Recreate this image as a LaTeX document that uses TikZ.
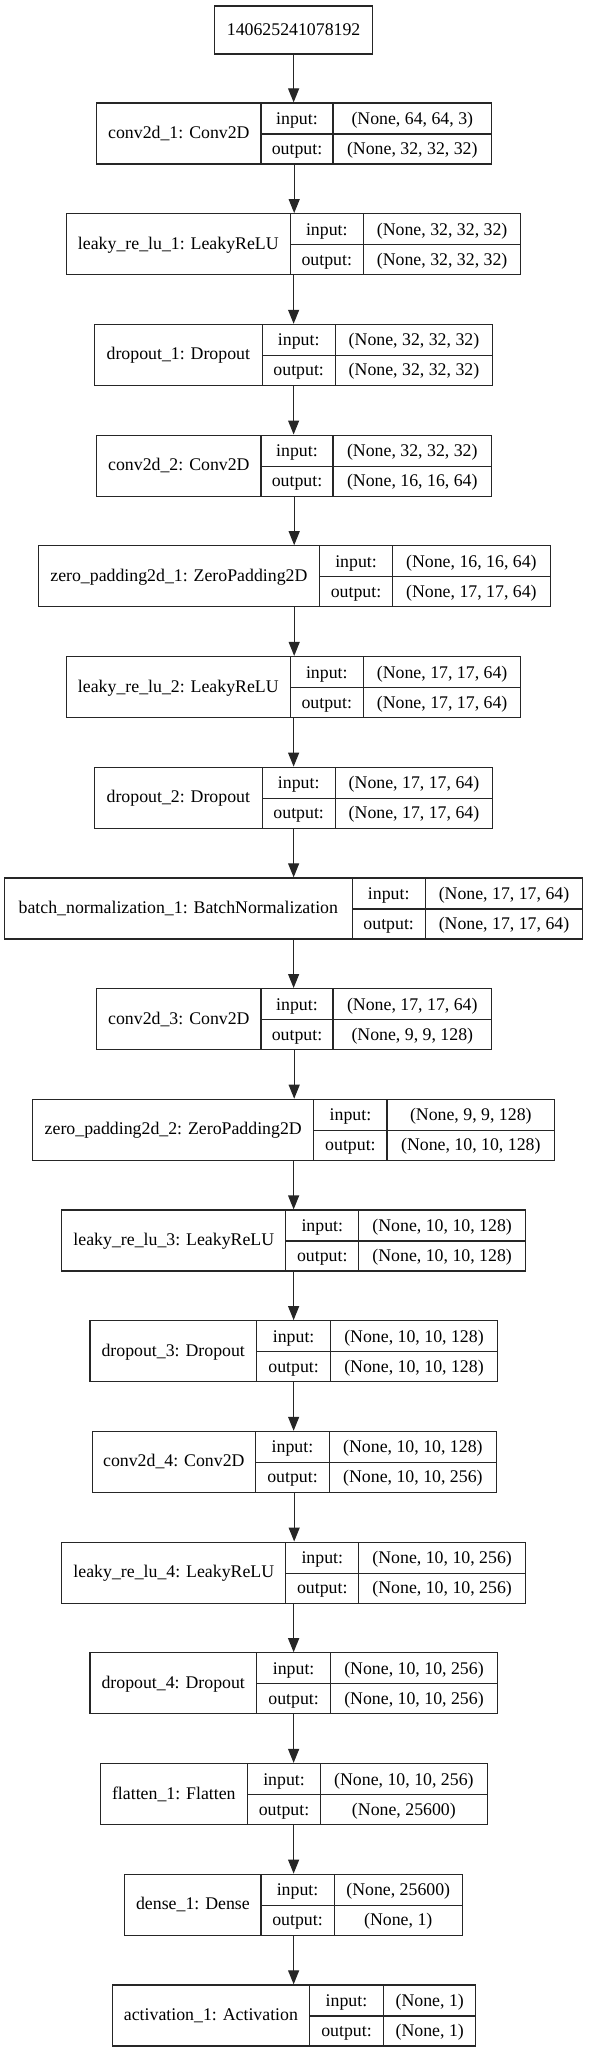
\documentclass[tikz,border=0pt]{standalone}
\usepackage{fontspec}
\setmainfont{Liberation Serif}
\usetikzlibrary{arrows.meta}

\begin{document}
\begin{tikzpicture}[x=1.125pt, y=-1pt, line width=1.2pt, font=\fontsize{17.8}{20}\selectfont,
	box/.style={draw=black!85, minimum height=61pt, inner sep=0pt},
	txt/.style={inner sep=0pt, anchor=base},
	flow/.style={draw=black!85, -{Triangle[length=14pt,width=11pt]}}]
	\useasboundingbox (0,0) rectangle (522.67,2052);
	% one keras layer: name, row, left, split 1, split 2, right, label, input, output
	\def\layer#1#2#3#4#5#6#7#8#9{
		\pgfmathsetmacro\yt{103+110.7*(#2-1)}
		\pgfmathsetmacro\yb{\yt+61}
		\pgfmathsetmacro\ym{\yt+31}
		\node[box, minimum width=1.125*#6pt-1.125*#3pt] (#1) at ({(#3+#6)/2},{\yt+30.5}) {};
		\draw[black!85] (#4,\yt) -- (#4,\yb);
		\draw[black!85] (#5,\yt) -- (#5,\yb);
		\draw[black!85] (#4,\ym) -- (#6,\ym);
		\node[txt] (#1-l) at ({(#3+#4)/2},{\yt+35.5}) {#7};
		\node[txt] (#1-i) at ({(#4+#5)/2},{\yt+21.5}) {input:};
		\node[txt] (#1-o) at ({(#4+#5)/2},{\yt+51.5}) {output:};
		\node[txt] (#1-in) at ({(#5+#6)/2},{\yt+21.5}) {#8};
		\node[txt] (#1-out) at ({(#5+#6)/2},{\yt+51.5}) {#9};
	}
	\node[draw=black!85, minimum width=157.5pt, minimum height=48pt, inner sep=0pt] (top) at (261,30) {};
	\node[txt] (top-l) at (261,36) {140625241078192};
	\layer{conv1}{1}{86}{232}{296}{437}{conv2d\_1: Conv2D}{(None, 64, 64, 3)}{(None, 32, 32, 32)}
	\layer{lrelu1}{2}{59}{258}{323}{463}{leaky\_re\_lu\_1: LeakyReLU}{(None, 32, 32, 32)}{(None, 32, 32, 32)}
	\layer{drop1}{3}{84}{233}{298}{438}{dropout\_1: Dropout}{(None, 32, 32, 32)}{(None, 32, 32, 32)}
	\layer{conv2}{4}{86}{232}{296}{437}{conv2d\_2: Conv2D}{(None, 32, 32, 32)}{(None, 16, 16, 64)}
	\layer{zpad1}{5}{34}{284}{349}{489}{zero\_padding2d\_1: ZeroPadding2D}{(None, 16, 16, 64)}{(None, 17, 17, 64)}
	\layer{lrelu2}{6}{59}{258}{323}{463}{leaky\_re\_lu\_2: LeakyReLU}{(None, 17, 17, 64)}{(None, 17, 17, 64)}
	\layer{drop2}{7}{84}{233}{298}{438}{dropout\_2: Dropout}{(None, 17, 17, 64)}{(None, 17, 17, 64)}
	\layer{bnorm1}{8}{4}{313}{378}{518}{batch\_normalization\_1: BatchNormalization}{(None, 17, 17, 64)}{(None, 17, 17, 64)}
	\layer{conv3}{9}{86}{232}{296}{437}{conv2d\_3: Conv2D}{(None, 17, 17, 64)}{(None, 9, 9, 128)}
	\layer{zpad2}{10}{29}{279}{344}{493}{zero\_padding2d\_2: ZeroPadding2D}{(None, 9, 9, 128)}{(None, 10, 10, 128)}
	\layer{lrelu3}{11}{55}{254}{319}{467}{leaky\_re\_lu\_3: LeakyReLU}{(None, 10, 10, 128)}{(None, 10, 10, 128)}
	\layer{drop3}{12}{80}{228}{294}{442}{dropout\_3: Dropout}{(None, 10, 10, 128)}{(None, 10, 10, 128)}
	\layer{conv4}{13}{82}{227}{293}{441}{conv2d\_4: Conv2D}{(None, 10, 10, 128)}{(None, 10, 10, 256)}
	\layer{lrelu4}{14}{55}{254}{319}{467}{leaky\_re\_lu\_4: LeakyReLU}{(None, 10, 10, 256)}{(None, 10, 10, 256)}
	\layer{drop4}{15}{80}{228}{294}{442}{dropout\_4: Dropout}{(None, 10, 10, 256)}{(None, 10, 10, 256)}
	\layer{flat1}{16}{89}{220}{285}{433}{flatten\_1: Flatten}{(None, 10, 10, 256)}{(None, 25600)}
	\layer{dense1}{17}{111}{232}{297}{411}{dense\_1: Dense}{(None, 25600)}{(None, 1)}
	\layer{act1}{18}{100}{275}{341}{423}{activation\_1: Activation}{(None, 1)}{(None, 1)}
	\draw[flow] (top.south) -- (top.south |- conv1.north);
	\draw[flow] (conv1.south) -- (conv1.south |- lrelu1.north);
	\draw[flow] (lrelu1.south) -- (lrelu1.south |- drop1.north);
	\draw[flow] (drop1.south) -- (drop1.south |- conv2.north);
	\draw[flow] (conv2.south) -- (conv2.south |- zpad1.north);
	\draw[flow] (zpad1.south) -- (zpad1.south |- lrelu2.north);
	\draw[flow] (lrelu2.south) -- (lrelu2.south |- drop2.north);
	\draw[flow] (drop2.south) -- (drop2.south |- bnorm1.north);
	\draw[flow] (bnorm1.south) -- (bnorm1.south |- conv3.north);
	\draw[flow] (conv3.south) -- (conv3.south |- zpad2.north);
	\draw[flow] (zpad2.south) -- (zpad2.south |- lrelu3.north);
	\draw[flow] (lrelu3.south) -- (lrelu3.south |- drop3.north);
	\draw[flow] (drop3.south) -- (drop3.south |- conv4.north);
	\draw[flow] (conv4.south) -- (conv4.south |- lrelu4.north);
	\draw[flow] (lrelu4.south) -- (lrelu4.south |- drop4.north);
	\draw[flow] (drop4.south) -- (drop4.south |- flat1.north);
	\draw[flow] (flat1.south) -- (flat1.south |- dense1.north);
	\draw[flow] (dense1.south) -- (dense1.south |- act1.north);
\end{tikzpicture}
\end{document}
